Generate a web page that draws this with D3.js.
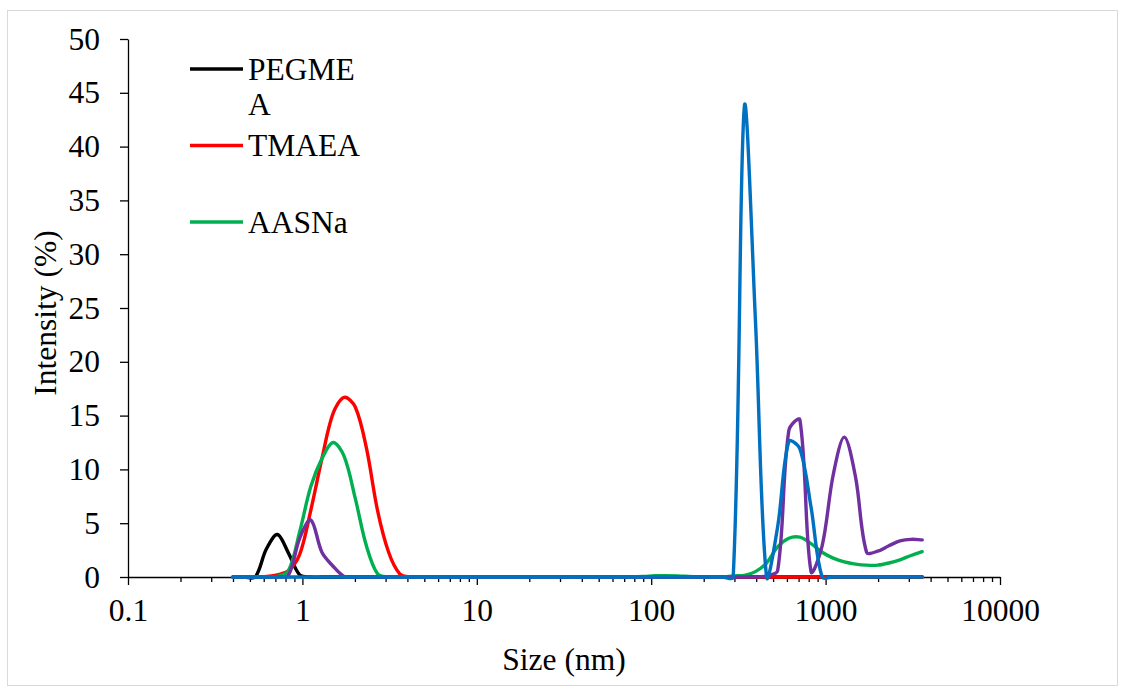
<!DOCTYPE html>
<html>
<head>
<meta charset="utf-8">
<script src="https://cdn.jsdelivr.net/npm/d3@7"></script>
<style>
  html, body { margin: 0; padding: 0; background: #fff; }
  svg { display: block; }
  text { font-family: "Liberation Serif", "Times New Roman", serif; fill: #000; }
</style>
</head>
<body>
<svg id="chart" width="1125" height="691"></svg>
<script>
// Size bins (nm) of the intensity distributions
const sizes = [0.4, 0.4632, 0.5365, 0.6213, 0.7195, 0.8332, 0.9649, 1.117, 1.294, 1.499,
  1.736, 2.01, 2.328, 2.696, 3.122, 3.615, 4.187, 4.849, 5.615, 6.503,
  7.531, 8.721, 10.1, 11.7, 13.54, 15.69, 18.17, 21.04, 24.36, 28.21,
  32.67, 37.84, 43.82, 50.75, 58.77, 68.06, 78.82, 91.28, 105.7, 122.4,
  141.8, 164.2, 190.1, 220.2, 255.0, 295.3, 342.0, 396.1, 458.7, 531.2,
  615.1, 712.4, 825.0, 955.4, 1106, 1281, 1484, 1718, 1990, 2305,
  2669, 3091, 3580];

// Intensity (%) per bin for each sample
const pegmea = [0, 0, 0, 2.6, 3.95, 2.2, 0.2, 0, 0, 0,
  0, 0, 0, 0, 0, 0, 0, 0, 0, 0,
  0, 0, 0, 0, 0, 0, 0, 0, 0, 0,
  0, 0, 0, 0, 0, 0, 0, 0, 0, 0,
  0, 0, 0, 0, 0, 0, 0, 0, 0, 0,
  0, 0, 0, 0, 0, 0, 0, 0, 0, 0,
  0, 0, 0];
const tmaea = [0, 0, 0, 0.05, 0.2, 0.6, 2.1, 6.2, 11.0, 15.2,
  16.7, 15.8, 12.0, 6.2, 2.3, 0.3, 0, 0, 0, 0,
  0, 0, 0, 0, 0, 0, 0, 0, 0, 0,
  0, 0, 0, 0, 0, 0, 0, 0, 0, 0,
  0, 0, 0, 0, 0, 0, 0, 0, 0, 0,
  0, 0, 0, 0, 0, 0, 0, 0, 0, 0,
  0, 0, 0];
const aasna = [0, 0, 0, 0, 0.05, 0.6, 4.2, 8.4, 11.0, 12.5,
  11.2, 7.3, 2.9, 0.3, 0, 0, 0, 0, 0, 0,
  0, 0, 0, 0, 0, 0, 0, 0, 0, 0,
  0, 0, 0, 0, 0, 0, 0, 0.05, 0.12, 0.12,
  0.1, 0.05, 0, 0, 0, 0.1, 0.15, 0.5, 1.3, 2.8,
  3.6, 3.7, 3.1, 2.3, 1.75, 1.4, 1.2, 1.1, 1.1, 1.3,
  1.6, 2.0, 2.35];
const sample4 = [0, 0, 0, 0, 0, 0.2, 3.6, 5.3, 2.3, 1.0,
  0.05, 0, 0, 0, 0, 0, 0, 0, 0, 0,
  0, 0, 0, 0, 0, 0, 0, 0, 0, 0,
  0, 0, 0, 0, 0, 0, 0, 0, 0, 0,
  0, 0, 0, 0, 0, 0, 0, 0, 0.1, 0.6,
  13.6, 14.6, 0.5, 2.9, 9.5, 13.0, 9.3, 2.3, 2.4, 2.9,
  3.35, 3.5, 3.45];
const sample5 = [0, 0, 0, 0, 0, 0, 0, 0, 0, 0,
  0, 0, 0, 0, 0, 0, 0, 0, 0, 0,
  0, 0, 0, 0, 0, 0, 0, 0, 0, 0,
  0, 0, 0, 0, 0, 0, 0, 0, 0, 0,
  0, 0, 0, 0, 0, 0, 43.7, 23.8, 0, 4.7,
  12.6, 11.9, 6.5, 0, 0, 0, 0, 0, 0, 0,
  0, 0, 0];

const seriesNames = ["PEGMEA", "TMAEA", "AASNa", "Sample 4", "Sample 5"];
const seriesValues = [pegmea, tmaea, aasna, sample4, sample5];
const seriesColors = ["#000000", "#FF0000", "#00B050", "#7030A0", "#0070C0"];
const legendCount = 3;

const xTickValues = [0.1, 1, 10, 100, 1000, 10000];
const xTickLabels = ["0.1", "1", "10", "100", "1000", "10000"];
const yTickValues = [0, 5, 10, 15, 20, 25, 30, 35, 40, 45, 50];

const FONT = '"Liberation Serif", "Times New Roman", serif';
const FONT_SIZE = "31.5px";

const svg = d3.select("#chart");

// chart area border
svg.append("rect")
  .attr("x", 7.5).attr("y", 10.5)
  .attr("width", 1110).attr("height", 675)
  .attr("fill", "#fff").attr("stroke", "#d9d9d9").attr("stroke-width", 1);

const x = d3.scaleLog().domain([0.1, 10000]).range([128, 1000]);
const y = d3.scaleLinear().domain([0, 50]).range([577, 39]);

// minor ticks at 2..9 of each decade
const minorTicks = [];
for (let d = 0.1; d < 10000; d *= 10) {
  for (let k = 2; k <= 9; k++) minorTicks.push(+(d * k).toPrecision(3));
}

// y axis
const yAxis = svg.append("g")
  .attr("transform", "translate(128,0)")
  .call(d3.axisLeft(y).tickValues(yTickValues).tickSize(8).tickSizeOuter(0).tickPadding(20).tickFormat(d3.format("d")));
yAxis.select(".domain").attr("stroke", "#000").attr("stroke-width", 1.3);
yAxis.selectAll(".tick line").attr("stroke", "#000").attr("stroke-width", 1.3);
yAxis.selectAll(".tick text")
  .style("font-family", FONT).style("font-size", FONT_SIZE).attr("fill", "#000");

// x axis: minor then major ticks
const xMinor = svg.append("g")
  .attr("transform", "translate(0,577)")
  .call(d3.axisBottom(x).tickValues(minorTicks).tickSize(5).tickSizeOuter(0).tickFormat(""));
xMinor.select(".domain").remove();
xMinor.selectAll(".tick line").attr("stroke", "#000").attr("stroke-width", 1.3);

const xAxis = svg.append("g")
  .attr("transform", "translate(0,577)")
  .call(d3.axisBottom(x).tickValues(xTickValues).tickSize(8).tickSizeOuter(0).tickPadding(14)
    .tickFormat((d, i) => xTickLabels[i]));
xAxis.select(".domain").attr("stroke", "#000").attr("stroke-width", 1.3);
xAxis.selectAll(".tick line").attr("stroke", "#000").attr("stroke-width", 1.3);
xAxis.selectAll(".tick text")
  .style("font-family", FONT).style("font-size", FONT_SIZE).attr("fill", "#000");

// axis titles
svg.append("text")
  .attr("x", 564).attr("y", 670)
  .attr("text-anchor", "middle")
  .style("font-family", FONT).style("font-size", FONT_SIZE)
  .text("Size (nm)");
svg.append("text")
  .attr("transform", "translate(56,313) rotate(-90)")
  .attr("text-anchor", "middle")
  .style("font-family", FONT).style("font-size", FONT_SIZE)
  .text("Intensity (%)");

// Bezier smoothing: tangent at each point follows its neighbours,
// with handle lengths proportional to the adjacent segment lengths
function SmoothCurve(context) { this._context = context; }
SmoothCurve.prototype = {
  areaStart() { this._line = 0; },
  areaEnd() { this._line = NaN; },
  lineStart() { this._pts = []; },
  point(px, py) { this._pts.push([+px, +py]); },
  lineEnd() {
    const p = this._pts, n = p.length, c = this._context;
    if (!n) return;
    c.moveTo(p[0][0], p[0][1]);
    if (n === 1) return;
    const dist = (a, b) => Math.hypot(b[0] - a[0], b[1] - a[1]);
    const handles = p.map((pt, i) => {
      const prev = p[Math.max(0, i - 1)], next = p[Math.min(n - 1, i + 1)];
      const tx = next[0] - prev[0], ty = next[1] - prev[1];
      const dPrev = i > 0 ? dist(prev, pt) : 0;
      const dNext = i < n - 1 ? dist(pt, next) : 0;
      const sum = dPrev + dNext || 1;
      return {
        inX: pt[0] - tx * dPrev / sum / 3, inY: pt[1] - ty * dPrev / sum / 3,
        outX: pt[0] + tx * dNext / sum / 3, outY: pt[1] + ty * dNext / sum / 3
      };
    });
    for (let i = 0; i < n - 1; i++) {
      c.bezierCurveTo(handles[i].outX, handles[i].outY,
        handles[i + 1].inX, handles[i + 1].inY, p[i + 1][0], p[i + 1][1]);
    }
  }
};
const smoothCurve = ctx => new SmoothCurve(ctx);

const line = d3.line()
  .x((d, i) => x(sizes[i]))
  .y(d => y(d))
  .curve(smoothCurve);

svg.append("g").selectAll("path")
  .data(seriesValues)
  .join("path")
  .attr("d", d => line(d))
  .attr("fill", "none")
  .attr("stroke", (d, i) => seriesColors[i])
  .attr("stroke-width", 3.4)
  .attr("stroke-linejoin", "round")
  .attr("stroke-linecap", "round");

// legend (labels wrap at five characters)
function wrapLabel(s) {
  const parts = [];
  for (let i = 0; i < s.length; i += 5) parts.push(s.slice(i, i + 5));
  return parts;
}
const legend = svg.append("g");
seriesNames.slice(0, legendCount).forEach((name, i) => {
  const ly = 69 + i * 76.5;
  legend.append("line")
    .attr("x1", 190).attr("x2", 243)
    .attr("y1", ly).attr("y2", ly)
    .attr("stroke", seriesColors[i]).attr("stroke-width", 3.4);
  const t = legend.append("text")
    .attr("x", 248).attr("y", ly + 10.5)
    .style("font-family", FONT).style("font-size", FONT_SIZE);
  wrapLabel(name).forEach((part, j) => {
    t.append("tspan").attr("x", 248).attr("dy", j === 0 ? 0 : 35).text(part);
  });
});
</script>
</body>
</html>
